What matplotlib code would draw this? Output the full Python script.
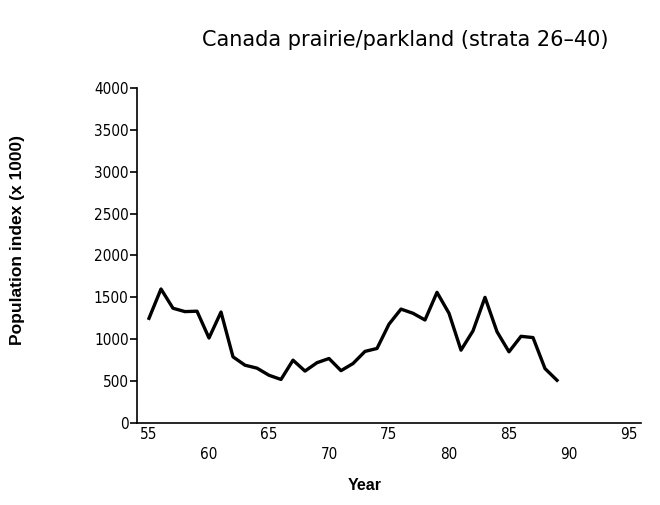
import matplotlib
matplotlib.use("Agg")
import matplotlib.pyplot as plt

years = list(range(1955, 1990))
population = [1250, 1600, 1370, 1330, 1335, 1015, 1325, 790, 690, 655,
              570, 520, 750, 620, 720, 770, 625, 710, 855, 890,
              1180, 1360, 1310, 1230, 1560, 1310, 870, 1100, 1500, 1090,
              850, 1035, 1020, 650, 510]
x_ticks = [55, 60, 65, 70, 75, 80, 85, 90, 95]
y_ticks = [0, 500, 1000, 1500, 2000, 2500, 3000, 3500, 4000]
title = "Canada prairie/parkland (strata 26\u201340)"

fig = plt.figure(figsize=(6.6, 5.05), dpi=100)
ax = fig.add_axes([137/660, 1 - 423/505, (641-137)/660, (423-88)/505])

xs = [y - 1900 for y in years]
ax.plot(xs, population, color="black", lw=2.4, solid_joinstyle="round")

ax.set_xlim(54, 96)
ax.set_ylim(0, 4000)
for s in ["top", "right"]:
    ax.spines[s].set_visible(False)
ax.spines["left"].set_linewidth(1.2)
ax.spines["bottom"].set_linewidth(1.2)

tickfont = dict(family="DejaVu Sans", stretch="condensed", size=11)
ax.set_yticks(y_ticks)
ax.set_yticklabels([str(v) for v in y_ticks], **tickfont)
ax.tick_params(axis="y", direction="out", length=5, width=1.2, pad=1)
ax.set_yticks([y_ticks[-1]], minor=True)
ax.tick_params(axis="y", which="minor", direction="in", length=5, width=1.2,
               labelleft=False)

ax.set_xticks(x_ticks)
ax.set_xticklabels([str(v) for v in x_ticks], **tickfont)
ax.tick_params(axis="x", length=0, pad=3)
for i, lab in enumerate(ax.get_xticklabels()):
    if i % 2 == 1:
        lab.set_y(-0.058)

ax.set_xlabel("Year", fontsize=11.5, fontweight="bold", family="Liberation Sans")
ax.xaxis.set_label_coords((365-137)/504, -(485-423)/335, transform=ax.transAxes)
ax.xaxis.label.set_va("center")
ax.set_ylabel("Population index (x 1000)", fontsize=12.5, fontweight="bold",
              family="Liberation Sans")
ax.yaxis.set_label_coords(-(137-18)/504, (423-240)/335, transform=ax.transAxes)
ax.yaxis.label.set_va("center")

fig.text(405/660, 1 - 40/505, title, ha="center", va="center", fontsize=15,
         family="DejaVu Sans", fontweight="normal", color="black")

fig.savefig("out.png", dpi=100)
